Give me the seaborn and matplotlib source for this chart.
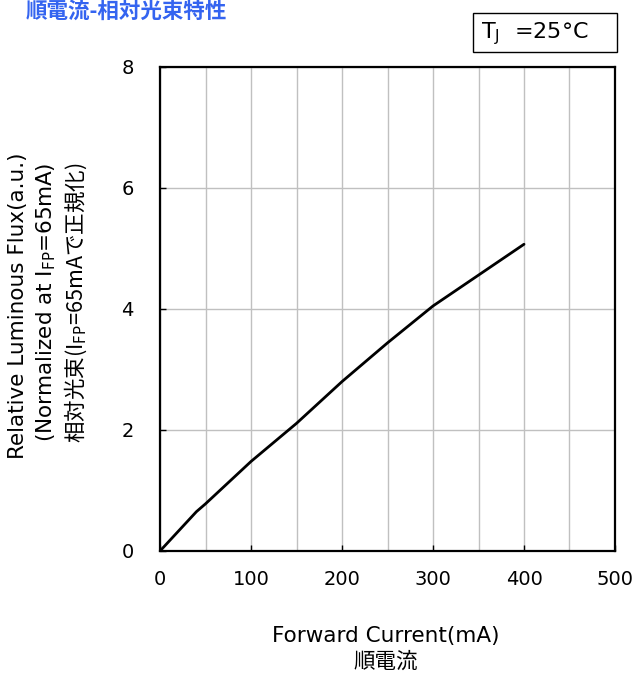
import seaborn as sns
import pandas as pd
import matplotlib.pyplot as plt
from matplotlib.patches import Rectangle
from matplotlib.ticker import MultipleLocator

current_ma = [0, 40, 50, 100, 150, 200, 250, 300, 350, 400]
rel_flux = [0.0, 0.65, 0.78, 1.48, 2.11, 2.80, 3.44, 4.05, 4.56, 5.07]

df = pd.DataFrame({"current": current_ma, "flux": rel_flux})

sns.set_style("white")
plt.rcParams['font.family'] = ['DejaVu Sans', 'Noto Sans CJK JP']
plt.rcParams['mathtext.fontset'] = 'dejavusans'
plt.rcParams['text.color'] = 'black'

fig = plt.figure(figsize=(6.35, 6.74), dpi=100)
ax = fig.add_axes([0.252, 0.1825, 0.7165, 0.7181])

sns.lineplot(data=df, x="current", y="flux", color="black", linewidth=2, ax=ax)

ax.set_xlim(0, 500)
ax.set_ylim(0, 8)
ax.xaxis.set_major_locator(MultipleLocator(100))
ax.xaxis.set_minor_locator(MultipleLocator(50))
ax.yaxis.set_major_locator(MultipleLocator(2))
ax.grid(True, which="both", axis="x", color="#c0c0c0", linewidth=1)
ax.grid(True, which="major", axis="y", color="#c0c0c0", linewidth=1)
ax.set_axisbelow(True)
ax.tick_params(which="major", direction="in", length=4, width=1, labelsize=14,
               bottom=True, left=True, colors="black")
ax.tick_params(axis="x", pad=14)
ax.tick_params(axis="y", pad=19)
ax.tick_params(which="minor", length=0)
for s in ax.spines.values():
    s.set_color("black")
    s.set_linewidth(1.6)
ax.set_xlabel("")
ax.set_ylabel("")

# axis titles
fig.text(0.607, 0.056, "Forward Current(mA)", ha="center", va="center", fontsize=15.5)
fig.text(0.607, 0.018, "順電流", ha="center", va="center", fontsize=15.5,
         family=['Noto Sans CJK JP'])
fig.text(0.028, 0.547, "Relative Luminous Flux(a.u.)", rotation=90,
         ha="center", va="center", fontsize=15.5)
fig.text(0.073, 0.551, r"(Normalized at I$_{\mathrm{FP}}$=65mA)", rotation=90,
         ha="center", va="center", fontsize=15.5)
fig.text(0.12, 0.551, r"相対光束(I$_{\mathrm{FP}}$=65mAで正規化)", rotation=90,
         ha="center", va="center", fontsize=15.5, family=['Noto Sans CJK JP'])

# chart title
fig.text(0.04, 0.983, "順電流-相対光束特性", ha="left", va="center", fontsize=15.5,
         fontweight="bold", color="#3464f0", family=['Noto Sans CJK JP'])

# temperature box
fig.patches.append(Rectangle((0.745, 0.9228), 0.2268, 0.0579, transform=fig.transFigure,
                             facecolor="white", edgecolor="black", linewidth=1))
fig.text(0.757, 0.9505, r"T$_\mathrm{J}$  =25°C", ha="left", va="center", fontsize=16)

plt.savefig("out.png", dpi=100)
